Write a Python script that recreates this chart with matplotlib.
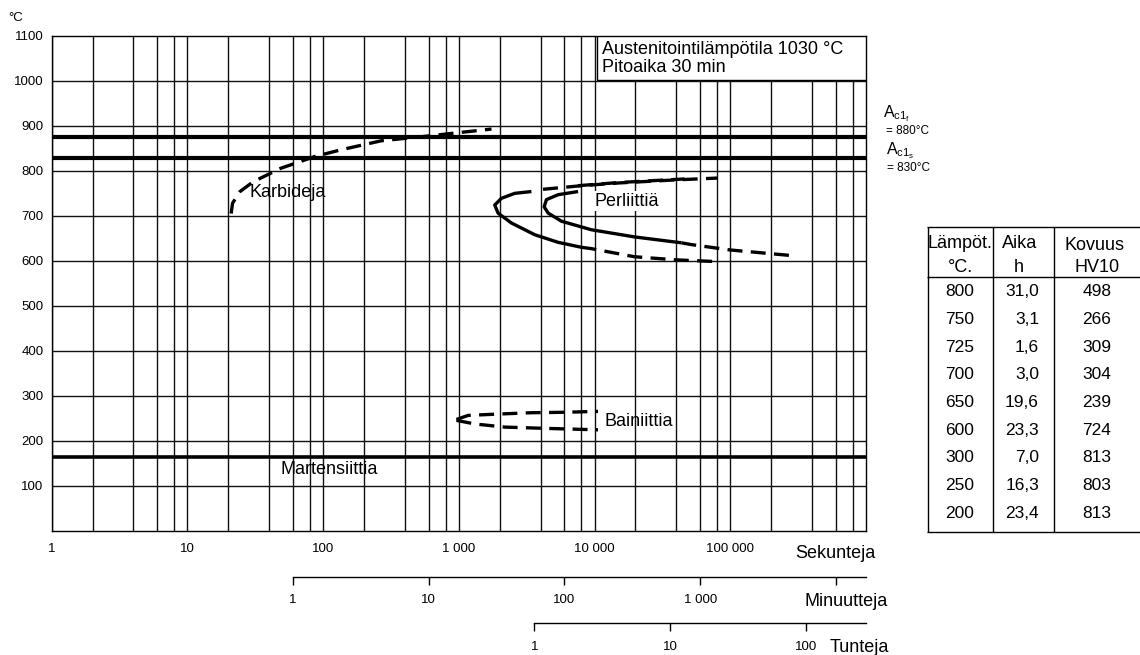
import matplotlib
matplotlib.use('Agg')
import matplotlib.pyplot as plt
from matplotlib.patches import Rectangle
from matplotlib.ticker import NullLocator

plt.rcParams['font.family'] = ['Liberation Sans', 'DejaVu Sans']
plt.rcParams['mathtext.fontset'] = 'custom'
plt.rcParams['mathtext.rm'] = 'Liberation Sans'
plt.rcParams['mathtext.it'] = 'Liberation Sans'

# axis ticks
y_ticks = [100, 200, 300, 400, 500, 600, 700, 800, 900, 1000, 1100]
sec_ticks = [1, 10, 100, 1000, 10000, 100000]
sec_labels = ['1', '10', '100', '1 000', '10 000', '100 000']
min_ticks = [1, 10, 100, 1000, 10000]
min_labels = ['1', '10', '100', '1 000', '']
h_ticks = [1, 10, 100]
h_labels = ['1', '10', '100']

# critical temperatures (degC)
ac1f = 876
ac1s = 828
ms = 164

# karbideja (dashed)
karb_t = [21, 21.5, 24.4, 30.6, 49, 87, 136, 269, 531, 1740]
karb_T = [705, 728, 754, 776, 806, 832, 847, 867, 876, 893]

# perliitti, outer curve
perl1_t = [3425, 2580, 2060, 1838, 1946, 2440, 3620, 5390, 8000]
perl1_T = [754, 750, 739, 724, 706, 684, 658, 641, 630]
perl1_low_t = [8000, 9470, 19650, 40000, 81600]
perl1_low_T = [630, 627, 609, 602, 598]
perl1_top_t = [4170, 8000, 14900, 40000, 81100]
perl1_top_T = [759, 767, 773, 780, 784]

# perliitti, inner curve
perl2_t = [7560, 5390, 4420, 4250, 4550, 5700, 9470, 19750, 43600]
perl2_T = [754, 747, 736, 720, 706, 688, 669, 653, 640]
perl2_low_t = [43600, 51600, 100000, 273000]
perl2_low_T = [640, 636, 624, 612]
perl2_top_t = [7560, 15000, 30000, 46100]
perl2_top_T = [767, 774, 779, 782]

# bainiitti (dashed)
bain_top_t = [960, 1170, 1946, 3425, 6030, 10600]
bain_top_T = [247, 256, 259, 262, 263, 265]
bain_low_t = [960, 1310, 2180, 4550, 10600]
bain_low_T = [245, 237, 230, 227, 224]

# table
tab_temp = ['800', '750', '725', '700', '650', '600', '300', '250', '200']
tab_time = ['31,0', '3,1', '1,6', '3,0', '19,6', '23,3', '7,0', '16,3', '23,4']
tab_hv = ['498', '266', '309', '304', '239', '724', '813', '803', '813']

W, H = 1140, 655
fig = plt.figure(figsize=(11.4, 6.55), dpi=100)
x0, x1, ytop, ybot = 51.7, 866, 36, 530.5
ax = fig.add_axes([x0 / W, 1 - ybot / H, (x1 - x0) / W, (ybot - ytop) / H])
ax.set_xscale('log')
ax.set_xlim(1, 1e6)
ax.set_ylim(0, 1100)

# grid
grid_x = [m * 10 ** d for d in range(6) for m in (1, 2, 4, 6, 8)]
ax.vlines(grid_x, 0, 1100, color='#111111', lw=1.0, zorder=1)
ax.hlines(y_ticks[:-1], 1, 1e6, color='#111111', lw=1.0, zorder=1)

ax.set_xticks(sec_ticks, sec_labels)
ax.xaxis.set_minor_locator(NullLocator())
ax.set_yticks(y_ticks)
ax.tick_params(axis='x', length=0, pad=9, labelsize=9.5)
ax.tick_params(axis='y', length=0, pad=6, labelsize=9.5)
for s in ax.spines.values():
    s.set_linewidth(1)

ax.axhline(ac1f, color='black', lw=3, zorder=3)
ax.axhline(ac1s, color='black', lw=3, zorder=3)
ax.axhline(ms, color='black', lw=2.6, zorder=3)

dash = (0, (4.5, 2.5))
kw = dict(color='black', lw=2.4, zorder=4, solid_capstyle='butt')
ax.plot(karb_t, karb_T, ls=dash, **kw)
ax.plot(perl1_t, perl1_T, **kw)
ax.plot(perl1_low_t, perl1_low_T, ls=dash, **kw)
ax.plot(perl1_top_t, perl1_top_T, ls=dash, **kw)
ax.plot(perl2_t, perl2_T, **kw)
ax.plot(perl2_low_t, perl2_low_T, ls=dash, **kw)
ax.plot(perl2_top_t, perl2_top_T, ls=dash, **kw)
ax.plot(bain_top_t, bain_top_T, ls=dash, **kw)
ax.plot(bain_low_t, bain_low_T, ls=dash, **kw)

ax.text(28.7, 751, 'Karbideja', fontsize=13, va='center', zorder=5)
ax.text(9950, 732, 'Perliittiä', fontsize=13, va='center', zorder=5,
        bbox=dict(fc='white', ec='none', pad=1))
ax.text(11800, 242, 'Bainiittia', fontsize=13, va='center', zorder=5)
ax.text(48.6, 135, 'Martensiittia', fontsize=13, va='center', zorder=5)

# info box
bx = (597 - x0) / (x1 - x0)
by = (ybot - 80) / (ybot - ytop)
ax.add_patch(Rectangle((bx, by), 1 - bx, 1 - by, transform=ax.transAxes,
                       fc='white', ec='black', lw=1, zorder=6))
ax.text((602 - x0) / (x1 - x0), (ybot - 41) / (ybot - ytop),
        'Austenitointilämpötila 1030 °C\nPitoaika 30 min', transform=ax.transAxes,
        fontsize=13, va='top', ha='left', linespacing=1.05, zorder=7)

# minute and hour axes
for loc_px, conv, ticks, labels, top in [(576.7, 60, min_ticks, min_labels, 1e6 / 60),
                                         (623.3, 3600, h_ticks, h_labels, 1e6 / 3600)]:
    sec = ax.secondary_xaxis(-(loc_px - ybot) / (ybot - ytop),
                             functions=(lambda s, c=conv: s / c, lambda m, c=conv: m * c))
    sec.set_xticks(ticks, labels)
    sec.xaxis.set_minor_locator(NullLocator())
    sec.tick_params(direction='out', length=5.5, width=1, pad=7, labelsize=9.5)
    sec.spines['bottom'].set_bounds(1, top)
    sec.spines['bottom'].set_linewidth(1)

# overlay for labels and table
ov = fig.add_axes([0, 0, 1, 1])
ov.set_xlim(0, W)
ov.set_ylim(H, 0)
ov.axis('off')

ov.text(8, 18, '°C', fontsize=9.5, va='center')
ov.text(795, 553, 'Sekunteja', fontsize=13, va='center')
ov.text(805, 601, 'Minuutteja', fontsize=13, va='center')
ov.text(830, 647, 'Tunteja', fontsize=13, va='center')

ov.text(883, 114, r'$\mathrm{A_{c1_f}}$', fontsize=11.5, va='center')
ov.text(886, 131, '= 880°C', fontsize=8.5, va='center')
ov.text(886, 151, r'$\mathrm{A_{c1_s}}$', fontsize=11.5, va='center')
ov.text(887, 168, '= 830°C', fontsize=8.5, va='center')

# table
ov.hlines([227.3, 277.3, 531.7], 927, 1140, color='black', lw=1)
ov.vlines([928, 993.3, 1054], 227.3, 531.7, color='black', lw=1)
ov.text(960, 243, 'Lämpöt.', fontsize=13, ha='center', va='center')
ov.text(960, 267, '°C.', fontsize=13, ha='center', va='center')
ov.text(1020, 243, 'Aika', fontsize=13, ha='center', va='center')
ov.text(1019, 267, 'h', fontsize=13, ha='center', va='center')
ov.text(1095, 245, 'Kovuus', fontsize=13, ha='center', va='center')
ov.text(1097, 267, 'HV10', fontsize=13, ha='center', va='center')
for i, (a, b, c) in enumerate(zip(tab_temp, tab_time, tab_hv)):
    yy = 291.7 + i * 27.7
    ov.text(960, yy, a, fontsize=12.5, ha='center', va='center')
    ov.text(1039, yy, b, fontsize=12.5, ha='right', va='center')
    ov.text(1097, yy, c, fontsize=12.5, ha='center', va='center')

fig.savefig('out.png', dpi=100)
